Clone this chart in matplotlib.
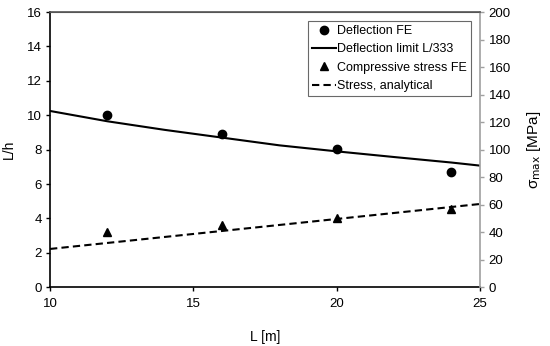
import numpy as np
import matplotlib.pyplot as plt

plt.rcParams['font.family'] = ['Liberation Sans', 'DejaVu Sans']

# deflection FE (L/h, left axis)
L_fe = [12, 16, 20, 24]
Lh_fe = [10.0, 8.9, 8.03, 6.7]

# deflection limit curve L/333 (left axis)
L_lim = [10, 12, 14, 16, 18, 20, 22, 24, 25]
Lh_lim = [10.25, 9.65, 9.15, 8.7, 8.25, 7.9, 7.57, 7.25, 7.07]

# compressive stress FE (MPa, right axis)
s_fe = [40, 45, 50, 56.5]

# analytical stress (MPa, right axis)
L_an = [10, 25]
s_an = [27.8, 60.5]

fig = plt.figure(figsize=(5.5, 3.46), dpi=100)
ax = fig.add_axes([0.091, 0.170, 0.782, 0.795])
ax2 = ax.twinx()

h1, = ax.plot(L_fe, Lh_fe, 'o', color='black', markersize=6, label='Deflection FE')
h2, = ax.plot(L_lim, Lh_lim, '-', color='black', linewidth=1.5, label='Deflection limit L/333')
h3, = ax2.plot(L_fe, s_fe, '^', color='black', markersize=6, label='Compressive stress FE')
h4, = ax2.plot(L_an, s_an, '--', color='black', linewidth=1.5, dashes=(3.5, 2),
               label='Stress, analytical')

ax.set_xlim(10, 25)
ax.set_ylim(0, 16)
ax2.set_ylim(0, 200)
ax.set_xticks([10, 15, 20, 25])
ax.set_yticks(range(0, 17, 2))
ax2.set_yticks(range(0, 201, 20))

fs = 9.5
ax.tick_params(axis='both', labelsize=fs, direction='out', length=3, width=1, color='black', pad=3)
ax.tick_params(axis='x', pad=5)
ax2.tick_params(axis='y', labelsize=fs, direction='out', length=3, width=1, color='#a0a0a0', pad=3)

for s in ['left', 'bottom']:
    ax.spines[s].set_color('black')
    ax.spines[s].set_linewidth(1.2)
ax.spines['top'].set_color('#555555')
ax.spines['right'].set_visible(False)
ax2.spines['left'].set_visible(False)
ax2.spines['bottom'].set_visible(False)
ax2.spines['top'].set_color('#555555')
ax2.spines['top'].set_linewidth(1.2)
ax2.spines['right'].set_color('#a0a0a0')
ax2.spines['right'].set_linewidth(1.2)

ax.set_xlabel('L [m]', fontsize=fs + 0.5, labelpad=14)
ax.set_ylabel('L/h', fontsize=fs + 0.5, labelpad=8)
ax2.set_ylabel(r'σ$_{\mathrm{max}}$ [MPa]', fontsize=fs + 1.5, labelpad=10)

leg = ax2.legend(handles=[h1, h2, h3, h4], loc='upper right', fontsize=9,
                 frameon=True, fancybox=False, edgecolor='#444444',
                 handlelength=1.9, handletextpad=0.1, borderpad=0.35,
                 labelspacing=0.5, borderaxespad=0.7)
leg.get_frame().set_linewidth(0.8)

fig.savefig('out.png', dpi=100)
